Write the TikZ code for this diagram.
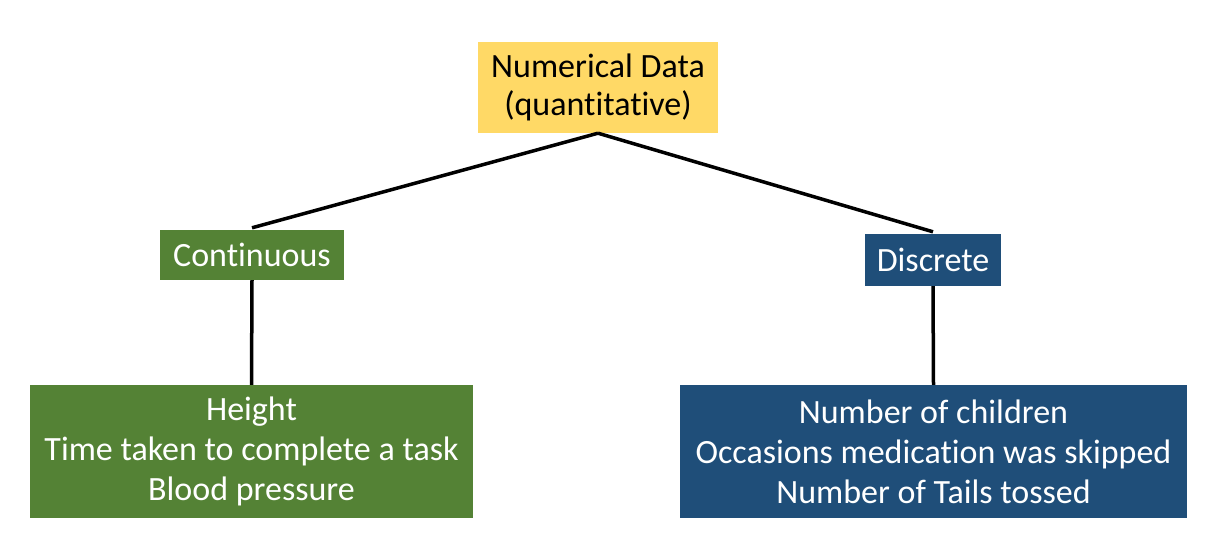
\documentclass[tikz,border=0pt]{standalone}
\usepackage{fontspec}
\setmainfont{Carlito}[Ligatures=NoCommon]
\definecolor{numyellow}{HTML}{FFD966}
\definecolor{contgreen}{HTML}{548235}
\definecolor{discblue}{HTML}{1F4E79}

\begin{document}
\begin{tikzpicture}[x=1pt, y=1pt,
    box/.style={inner sep=0pt, align=center, font=\fontsize{34}{40}\selectfont},
    link/.style={line width=3.5pt}]
      \useasboundingbox (0,0) rectangle (1223,-557);

      \node[box, fill=numyellow, minimum width=240, minimum height=91,
        font=\fontsize{34}{38}\selectfont]
        (num) at (598,-87.5) {Numerical Data\\(quantitative)};

      \node[box, fill=contgreen, text=white, minimum width=184, minimum height=50]
        (cont) at (252,-255) {Continuous};
      \node[box, fill=discblue, text=white, minimum width=136, minimum height=52]
        (disc) at (933,-260) {Discrete};

      \node[box, fill=contgreen, text=white, minimum width=443, minimum height=133]
        (contex) at (251.5,-451.5) {Height\\Time taken to complete a task\\Blood pressure};
      \node[box, fill=discblue, text=white, minimum width=507, minimum height=133]
        (discex) at (933.5,-451.5) {Number of children\\Occasions medication was skipped\\Number of Tails tossed};

      \draw[link] (num.south) -- ([yshift=2]cont.north);
      \draw[link] (num.south) -- ([yshift=2]disc.north);
      \draw[link] (cont.south) -- (contex.north);
      \draw[link] (disc.south) -- (discex.north);
\end{tikzpicture}
\end{document}
